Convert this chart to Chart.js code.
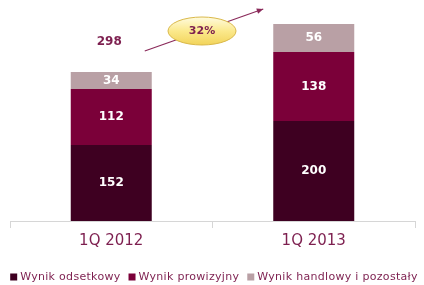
<!DOCTYPE html>
<html>
<head>
<meta charset="utf-8">
<script src="https://cdn.jsdelivr.net/npm/chart.js@4/dist/chart.umd.min.js"></script>
<style>
  html, body { margin: 0; padding: 0; background: #fff; }
  #wrap { width: 424px; height: 285px; position: relative; }
</style>
</head>
<body>
<div id="wrap"><canvas id="wynik"></canvas></div>
<script>
const quarters = ['1Q 2012', '1Q 2013'];
const odsetkowy = [152, 200];
const prowizyjny = [112, 138];
const handlowy = [34, 56];
const growthLabel = '32%';

const seriesNames = ['Wynik odsetkowy', 'Wynik prowizyjny', 'Wynik handlowy i pozostały'];
const seriesColors = ['#3e0021', '#7b0039', '#b9a0a5'];
const maroon = '#7d1f4f';

const totals = quarters.map((q, i) => odsetkowy[i] + prowizyjny[i] + handlowy[i]);

// etykiety w slupkach, sumy nad slupkami, strzalka i elipsa z przyrostem
const labelsPlugin = {
  id: 'labelsPlugin',
  afterDatasetsDraw(chart) {
    const ctx = chart.ctx;
    ctx.save();
    ctx.textAlign = 'center';
    ctx.textBaseline = 'middle';

    chart.data.datasets.forEach((ds, di) => {
      const meta = chart.getDatasetMeta(di);
      meta.data.forEach((bar, i) => {
        ctx.fillStyle = '#ffffff';
        ctx.font = 'bold 12px "DejaVu Sans"';
        ctx.fillText(ds.data[i], bar.x, (bar.y + bar.base) / 2);
      });
    });

    const top = chart.getDatasetMeta(chart.data.datasets.length - 1).data;
    const yScale = chart.scales.y;
    ctx.fillStyle = maroon;
    ctx.font = 'bold 12px "DejaVu Sans"';
    top.forEach((bar, i) => {
      ctx.fillText(totals[i], bar.x - 2, yScale.getPixelForValue(totals[i]) - 30);
    });

    // strzalka
    const b1 = top[0], b2 = top[1];
    const x1 = b1.x + b1.width / 2 - 7, y1 = yScale.getPixelForValue(totals[0]) - 21;
    const x2 = b2.x - b2.width / 2 - 10, y2 = yScale.getPixelForValue(totals[1]) - 15;
    ctx.strokeStyle = '#8a2a5a';
    ctx.fillStyle = '#8a2a5a';
    ctx.lineWidth = 1.2;
    ctx.beginPath();
    ctx.moveTo(x1, y1);
    ctx.lineTo(x2, y2);
    ctx.stroke();
    const ang = Math.atan2(y2 - y1, x2 - x1);
    ctx.beginPath();
    ctx.moveTo(x2, y2);
    ctx.lineTo(x2 - 7 * Math.cos(ang - 0.4), y2 - 7 * Math.sin(ang - 0.4));
    ctx.lineTo(x2 - 7 * Math.cos(ang + 0.4), y2 - 7 * Math.sin(ang + 0.4));
    ctx.closePath();
    ctx.fill();

    // elipsa
    const cx = (x1 + x2) / 2 - 2, cy = (y1 + y2) / 2 + 1;
    const grad = ctx.createLinearGradient(0, cy - 14, 0, cy + 14);
    grad.addColorStop(0, '#fffbe0');
    grad.addColorStop(0.5, '#fbe98c');
    grad.addColorStop(1, '#f2d45a');
    ctx.beginPath();
    ctx.ellipse(cx, cy, 34, 14, 0, 0, Math.PI * 2);
    ctx.fillStyle = grad;
    ctx.fill();
    ctx.strokeStyle = '#d9b84a';
    ctx.lineWidth = 1;
    ctx.stroke();
    ctx.fillStyle = maroon;
    ctx.font = 'bold 11px "DejaVu Sans"';
    ctx.fillText(growthLabel, cx, cy);

    ctx.restore();
  },
  // legenda w jednej linii, ciasniej niz wbudowana
  afterDraw(chart) {
    const ctx = chart.ctx;
    ctx.save();
    ctx.font = '11px "DejaVu Sans"';
    ctx.letterSpacing = '0.3px';
    ctx.textBaseline = 'middle';
    ctx.textAlign = 'left';
    const box = 7, gap = 3, between = 8;
    const widths = seriesNames.map(n => ctx.measureText(n).width);
    const total = widths.reduce((a, w) => a + box + gap + w, 0) + between * (seriesNames.length - 1);
    let x = (chart.width - total) / 2 + 2;
    const y = chart.height - 8;
    seriesNames.forEach((n, i) => {
      ctx.fillStyle = seriesColors[i];
      ctx.fillRect(x, y - 3.5, box, box);
      ctx.fillStyle = maroon;
      ctx.fillText(n, x + box + gap, y);
      x += box + gap + widths[i] + between;
    });
    ctx.restore();
  }
};

new Chart(document.getElementById('wynik'), {
  type: 'bar',
  data: {
    labels: quarters,
    datasets: [
      { label: seriesNames[0], data: odsetkowy, backgroundColor: seriesColors[0] },
      { label: seriesNames[1], data: prowizyjny, backgroundColor: seriesColors[1] },
      { label: seriesNames[2], data: handlowy, backgroundColor: seriesColors[2] }
    ]
  },
  options: {
    responsive: true,
    maintainAspectRatio: false,
    animation: false,
    layout: { padding: { left: 10, right: 9, top: 0, bottom: 31 } },
    datasets: { bar: { categoryPercentage: 0.4, barPercentage: 1 } },
    scales: {
      x: {
        stacked: true,
        grid: { drawOnChartArea: false, tickLength: 7, color: '#d6d6d6', offset: true },
        border: { color: '#d6d6d6' },
        ticks: { color: maroon, font: { family: 'DejaVu Sans', size: 15 }, padding: 4 }
      },
      y: {
        stacked: true,
        display: false,
        min: 0,
        max: 442
      }
    },
    plugins: {
      legend: { display: false },
      tooltip: { enabled: false }
    }
  },
  plugins: [labelsPlugin]
});
</script>
</body>
</html>
